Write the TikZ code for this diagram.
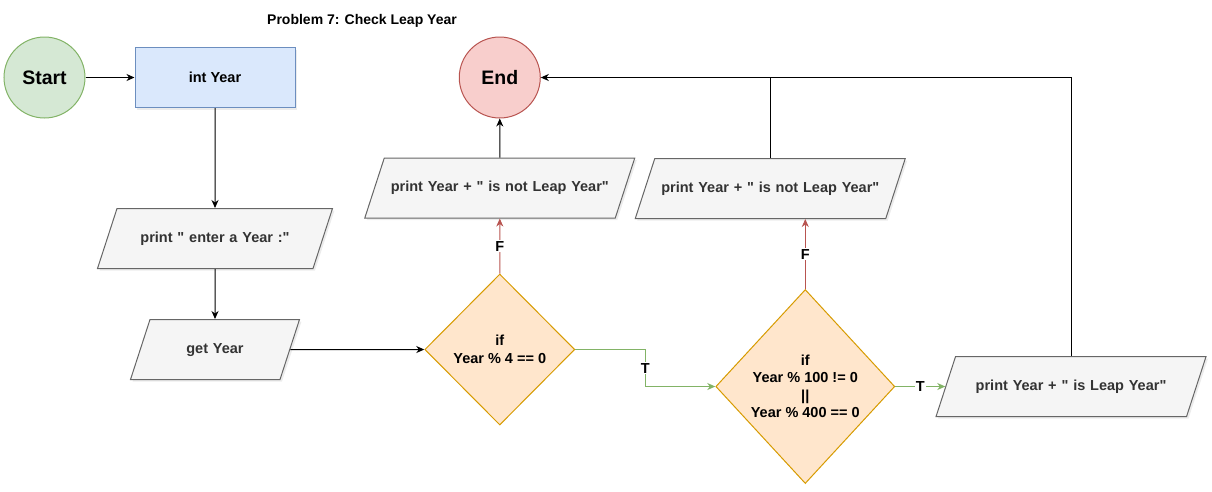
\documentclass[tikz,border=0pt]{standalone}
\usepackage{fontspec}
\setmainfont{Liberation Sans}
\newfontfamily\flowfont{Liberation Sans}
\usepackage{xcolor}
\usetikzlibrary{shapes.geometric, arrows.meta, positioning, calc, shadows}
\definecolor{startfill}{HTML}{D5E8D4}
\definecolor{startdraw}{HTML}{82B366}
\definecolor{endfill}{HTML}{F8CECC}
\definecolor{enddraw}{HTML}{B85450}
\definecolor{blockfill}{HTML}{DAE8FC}
\definecolor{blockdraw}{HTML}{6C8EBF}
\definecolor{iofill}{HTML}{F5F5F5}
\definecolor{iodraw}{HTML}{666666}
\definecolor{iotext}{HTML}{333333}
\definecolor{decfill}{HTML}{FFE6CC}
\definecolor{decdraw}{HTML}{D79B00}
\tikzset{
    flowtext/.style={font=\flowfont\fontsize{14.5}{17.5}\selectfont\bfseries},
    terminal/.style={circle, draw, line width=1pt, minimum size=81pt, inner sep=0pt, font=\flowfont\fontsize{19.5}{22}\selectfont\bfseries},
    block/.style={rectangle, draw=blockdraw, fill=blockfill, line width=1pt, minimum width=160pt, minimum height=60pt, flowtext, drop shadow={shadow xshift=2pt, shadow yshift=-2pt, opacity=0.15}},
    io/.style={trapezium, trapezium left angle=72, trapezium right angle=108, draw=iodraw, fill=iofill, text=iotext, line width=1pt, text width=#1, align=center, text height=10.5pt, text depth=3pt, inner xsep=0pt, inner ysep=23.25pt, flowtext, drop shadow={shadow xshift=2pt, shadow yshift=-2pt, opacity=0.15}},
    decision/.style={diamond, draw=decdraw, fill=decfill, line width=1pt, inner sep=0pt, align=center, flowtext},
    arrow/.style={-{Stealth[length=8pt, width=7pt, inset=2.5pt]}, line width=1pt},
    farrow/.style={arrow, draw=enddraw},
    tarrow/.style={arrow, draw=startdraw},
    edgelabel/.style={fill=white, inner sep=1pt, flowtext},
}
\begin{document}
\begin{tikzpicture}[x=1pt, y=-1pt]
    \useasboundingbox (0,0) rectangle (1212,491);
    \node[font=\flowfont\fontsize{14}{16}\selectfont\bfseries] (title) at (362,21) {Problem 7: Check Leap Year};
    % left column
    \node[terminal, draw=startdraw, fill=startfill] (start) at (44.5,77.5) {Start};
    \node[block, right=49pt of start] (int) {int Year};
    \node[io=196pt, below=100pt of int] (penter) {print " enter a Year :"};
    \node[io=130pt, below=50pt of penter] (get) {get Year};
    % first test
    \node[decision, minimum width=150pt, minimum height=151pt, right=134pt of get] (ifa) {if\\Year \% 4 == 0};
    \node[io=231pt, above=55pt of ifa] (pnot1) {print Year + " is not Leap Year"};
    \node[terminal, draw=enddraw, fill=endfill, above=39pt of pnot1] (end) {End};
    % second test
    \node[decision, minimum width=179pt, minimum height=194pt, right=140pt of ifa, yshift=-37pt] (ifb) {if\\Year \% 100 != 0\\||\\Year \% 400 == 0};
    \node[io=231pt, above=70pt of ifb, xshift=-35pt] (pnot2) {print Year + " is not Leap Year"};
    \node[io=231pt, right=50pt of ifb] (pleap) {print Year + " is Leap Year"};
    % connectors
    \draw[arrow] (start) -- (int);
    \draw[arrow] (int) -- (penter);
    \draw[arrow] (penter) -- (get);
    \draw[arrow] (get) -- (ifa);
    \draw[farrow] (ifa) -- node[edgelabel] {F} (pnot1);
    \draw[arrow] (pnot1) -- (end);
    \coordinate (tbend) at ($(ifa.east)!0.5!(ifb.west)$);
    \draw[tarrow] (ifa.east) -| (tbend) |- (ifb.west);
    \node[edgelabel] at (tbend) {T};
    \draw[farrow] (ifb.north) -- node[edgelabel] {F} (ifb.north |- pnot2.south);
    \draw[tarrow] (ifb.east) -- node[edgelabel] {T} (ifb.east -| pleap.west);
    \draw[line width=1pt] (pnot2.center |- pnot2.north) -- (pnot2.center |- end.east);
    \draw[arrow] (pleap.center |- pleap.north) |- (end.east);
\end{tikzpicture}
\end{document}
